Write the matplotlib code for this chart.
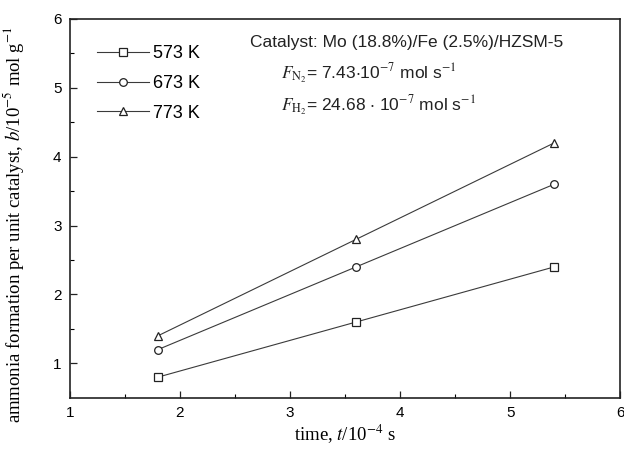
import matplotlib
matplotlib.use('Agg')
import matplotlib.pyplot as plt

plt.rcParams['font.family'] = ['Liberation Sans', 'DejaVu Sans']
plt.rcParams['mathtext.fontset'] = 'stix'

time = [1.8, 3.6, 5.4]
labels = ['573 K', '673 K', '773 K']
vals_573 = [0.8, 1.6, 2.4]
vals_673 = [1.2, 2.4, 3.6]
vals_773 = [1.4, 2.8, 4.2]
markers = ['s', 'o', '^']

fig = plt.figure(figsize=(6.24, 4.5), dpi=100)
ax = fig.add_axes([0.112, 0.116, 0.882, 0.842])

for vals, m, lab in zip([vals_573, vals_673, vals_773], markers, labels):
    ax.plot(time, vals, color='#3a3a3a', lw=0.8, marker=m, markersize=5.5,
            markerfacecolor='white', markeredgecolor='#222222', markeredgewidth=0.9,
            label=lab)

ax.set_xlim(1, 6)
ax.set_ylim(0.5, 6)
ax.set_xticks([1, 2, 3, 4, 5, 6])
ax.set_yticks([1, 2, 3, 4, 5, 6])
ax.set_xticks([1.5, 2.5, 3.5, 4.5, 5.5], minor=True)
ax.set_yticks([1.5, 2.5, 3.5, 4.5, 5.5], minor=True)
ax.tick_params(direction='in', length=5, width=0.9, labelsize=11, color='#222222', pad=6)
ax.tick_params(which='minor', direction='in', length=3, width=0.8)
for s in ax.spines.values():
    s.set_linewidth(1.2)
    s.set_color('#222222')

ax.set_xlabel(r'time, $t$/10$^{-4}$ s', family='Liberation Serif', fontsize=13.5, labelpad=2)
fig.text(0.021, 0.5, r'ammonia formation per unit catalyst, $b$/10$^{-5}$ mol g$^{-1}$',
         family='Liberation Serif', fontsize=13.5, rotation=90, ha='center', va='center')

ax.legend(loc='upper left', frameon=False, fontsize=13, handlelength=2.9,
          labelspacing=0.7, handletextpad=0.2, borderaxespad=0, borderpad=0,
          bbox_to_anchor=(0.049, 0.93))

ax.text(0.327, 0.939, 'Catalyst: Mo (18.8%)/Fe (2.5%)/HZSM-5', transform=ax.transAxes,
        fontsize=12.5, va='center', color='#222222')
ax.text(0.383, 0.855, r'$F_{\mathrm{N}_2}$= 7.43$\cdot$10$^{-7}$ mol s$^{-1}$',
        transform=ax.transAxes, fontsize=12.5, va='center', color='#222222')
ax.text(0.383, 0.77, r'$F_{\mathrm{H}_2}$= 24.68 $\cdot$ 10$^{-7}$ mol s$^{-1}$',
        transform=ax.transAxes, fontsize=12.5, va='center', color='#222222')

fig.savefig('out.png', dpi=100)
